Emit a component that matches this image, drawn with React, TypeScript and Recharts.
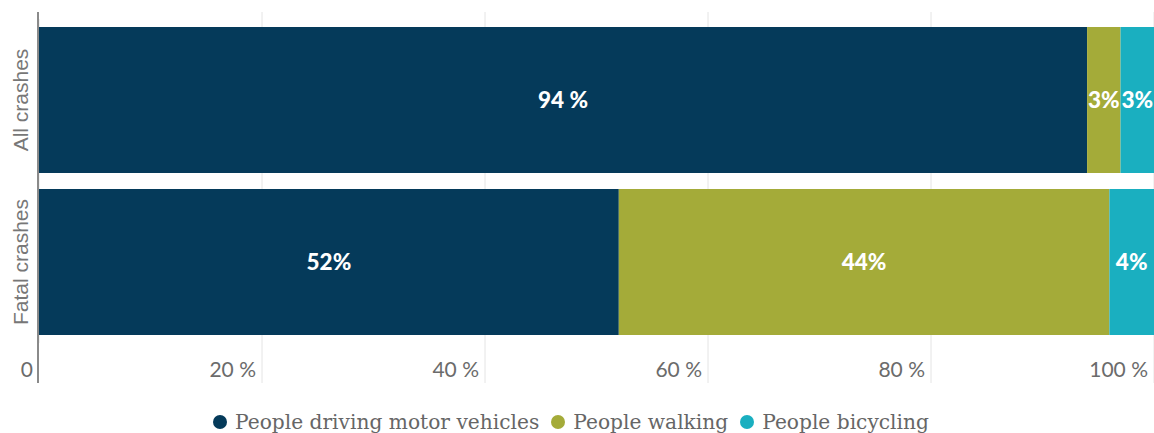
import React from 'react';
import { BarChart, Bar, XAxis, YAxis, CartesianGrid, Legend, LabelList } from 'recharts';

const categories = ['All crashes', 'Fatal crashes'];
const driving = [94, 52];
const walking = [3, 44];
const bicycling = [3, 4];
const drivingLabels = ['94 %', '52%'];
const walkingLabels = ['3%', '44%'];
const bicyclingLabels = ['3%', '4%'];
const xTicks = [0, 20, 40, 60, 80, 100];
const xTickLabels = ['0', '20 %', '40 %', '60 %', '80 %', '100 %'];

const seriesNames = ['People driving motor vehicles', 'People walking', 'People bicycling'];
const seriesColors = ['#053a5a', '#a4ab39', '#1aafc0'];

const chartData = categories.map((name, i) => ({
  name,
  driving: driving[i],
  walking: walking[i],
  bicycling: bicycling[i],
  drivingLabel: drivingLabels[i],
  walkingLabel: walkingLabels[i],
  bicyclingLabel: bicyclingLabels[i],
}));

// plot area edges (px) so the grid / axis line can run past them like the original
const PLOT_TOP = 19;
const PLOT_BOTTOM = 343;
const LINE_TOP = 12;
const LINE_BOTTOM = 383;

const XTick = (props: any) => {
  const { x, payload } = props;
  const idx = xTicks.indexOf(payload.value);
  const isZero = payload.value === 0;
  return (
    <g>
      {isZero ? (
        <line x1={x - 1} x2={x - 1} y1={LINE_TOP} y2={LINE_BOTTOM} stroke="#8a8a8a" strokeWidth={2} />
      ) : (
        <>
          <line x1={x} x2={x} y1={LINE_TOP} y2={PLOT_TOP} stroke="#e4e4e4" />
          <line x1={x} x2={x} y1={PLOT_BOTTOM} y2={LINE_BOTTOM} stroke="#e4e4e4" />
        </>
      )}
      <text x={x - 6} y={377} textAnchor="end" fill="#6b6b6b" fontFamily="Lato" fontSize={21}>
        {xTickLabels[idx]}
      </text>
    </g>
  );
};

const YTick = (props: any) => {
  const { y, payload } = props;
  return (
    <text
      x={20}
      y={y}
      transform={`rotate(-90, 20, ${y})`}
      textAnchor="middle"
      dominantBaseline="central"
      fill="#777"
      fontFamily="Liberation Sans"
      fontSize={21}
    >
      {payload.value}
    </text>
  );
};

const LegendContent = () => (
  <div style={{ display: 'flex', justifyContent: 'center', alignItems: 'center', fontFamily: 'DejaVu Serif', fontSize: 20.2, color: '#666', lineHeight: '24px' }}>
    {seriesNames.map((n, i) => (
      <div key={n} style={{ display: 'flex', alignItems: 'center', marginRight: 12 }}>
        <span style={{ width: 14, height: 14, borderRadius: 7, background: seriesColors[i], marginRight: 8, display: 'inline-block' }} />
        <span>{n}</span>
      </div>
    ))}
  </div>
);

const labelStyle = { fontFamily: 'Lato', fontWeight: 900, fontSize: 22.5 };

export default function App() {
  return (
    <div style={{ position: 'absolute', left: 0, top: 0, background: '#fff' }}>
      <BarChart
        width={1154}
        height={433}
        data={chartData}
        layout="vertical"
        barSize={146}
        margin={{ top: PLOT_TOP, right: 0, left: 0, bottom: 433 - PLOT_BOTTOM - 40 }}
      >
        <CartesianGrid horizontal={false} stroke="#e4e4e4" />
        <XAxis
          type="number"
          domain={[0, 100]}
          ticks={xTicks}
          interval={0}
          height={40}
          axisLine={false}
          tickLine={false}
          tick={<XTick />}
        />
        <YAxis type="category" dataKey="name" width={39} axisLine={false} tickLine={false} tick={<YTick />} />
        <Legend
          layout="horizontal"
          verticalAlign="middle"
          align="center"
          wrapperStyle={{ position: 'absolute', top: 410, left: 0, width: 1154 }}
          content={<LegendContent />}
        />
        <Bar dataKey="driving" stackId="a" fill={seriesColors[0]} name={seriesNames[0]} isAnimationActive={false}>
          <LabelList dataKey="drivingLabel" position="center" fill="#fff" style={labelStyle} />
        </Bar>
        <Bar dataKey="walking" stackId="a" fill={seriesColors[1]} name={seriesNames[1]} isAnimationActive={false}>
          <LabelList dataKey="walkingLabel" position="center" fill="#fff" style={labelStyle} />
        </Bar>
        <Bar dataKey="bicycling" stackId="a" fill={seriesColors[2]} name={seriesNames[2]} isAnimationActive={false}>
          <LabelList dataKey="bicyclingLabel" position="center" fill="#fff" style={labelStyle} />
        </Bar>
      </BarChart>
    </div>
  );
}
